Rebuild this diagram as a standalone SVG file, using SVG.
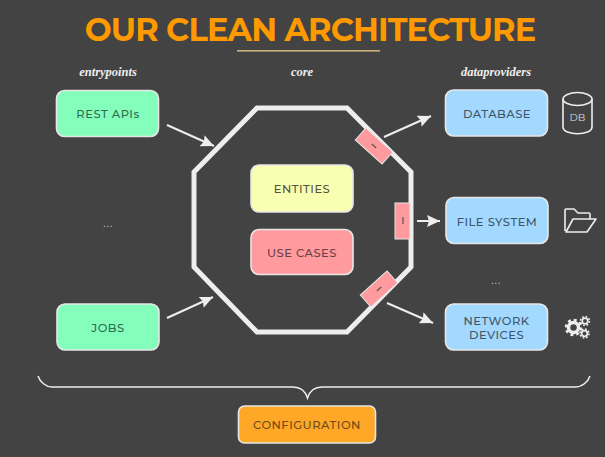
<svg xmlns="http://www.w3.org/2000/svg" width="605" height="457" viewBox="0 0 605 457">
<defs>
<marker id="ah" markerUnits="userSpaceOnUse" markerWidth="14" markerHeight="12" refX="13" refY="6" orient="auto"><path d="M0 0L13 6L0 12L2 6Z" fill="#eeeeee"/></marker>
</defs>
<style>
text{font-family:"Montserrat","Inter","Open Sans","Liberation Sans",sans-serif;text-anchor:middle}
.n{stroke:#e6e6e6;stroke-width:1.6}
.l{font-size:11.5px;font-weight:500;letter-spacing:.5px}
.g{fill:#2f6b4f}.b{fill:#3f5568}
.h{font-family:"Liberation Serif",serif;font-style:italic;font-weight:700;font-size:12.5px;fill:#eeeeee}
.c{fill:none;stroke:#eeeeee;stroke-width:2;marker-end:url(#ah)}
.i{fill:none;stroke:#eeeeee;stroke-width:1.6;stroke-linejoin:round}
.p{fill:#ff9a9e;stroke:#e6e6e6;stroke-width:1}
.d{font-family:"Liberation Sans",sans-serif;fill:#cccccc;font-size:10px;letter-spacing:.5px}
</style>
<rect width="605" height="457" fill="#434343"/>
<text id="title" x="310" y="40.500" style="font-size:32px;font-weight:700;fill:#ff9900;letter-spacing:-.85px">OUR CLEAN ARCHITECTURE</text>
<rect x="237" y="50" width="143" height="1.600" fill="#c9b27c" id="rule"/>
<text class="h" x="108" y="76">entrypoints</text>
<text class="h" x="302" y="76">core</text>
<text class="h" x="496" y="76">dataproviders</text>
<path id="octagon" d="M257 108H347L411 172V267L347 332H257L194 267V172Z" fill="none" stroke="#eeeeee" stroke-width="5"/>
<g id="connectors">
<path class="c" d="M167 125L214 146"/>
<path class="c" d="M167 318L213 297"/>
<path class="c" d="M384 137L431 116"/>
<path class="c" d="M417 221H440"/>
<path class="c" d="M387 303L433 323"/>
</g>
<g id="n-rest"><rect class="n" x="56.500" y="90.500" width="102" height="46" rx="8" fill="#84ffbb"/><text class="l g" x="108" y="118">REST APIs</text></g>
<g id="n-jobs"><rect class="n" x="57" y="304" width="102" height="46" rx="8" fill="#84ffbb"/><text class="l g" x="108" y="332">JOBS</text></g>
<g id="n-db"><rect class="n" x="445.500" y="90" width="102" height="46" rx="8" fill="#a3d9ff"/><text class="l b" x="497" y="118">DATABASE</text></g>
<g id="n-fs"><rect class="n" x="446" y="197.500" width="102" height="46" rx="8" fill="#a3d9ff"/><text class="l b" x="497" y="226">FILE SYSTEM</text></g>
<g id="n-net"><rect class="n" x="445.500" y="304" width="102" height="46" rx="8" fill="#a3d9ff"/><text class="l b" x="496.500" y="325">NETWORK</text><text class="l b" x="496.500" y="339">DEVICES</text></g>
<g id="n-entities"><rect class="n" x="251" y="165" width="102" height="47" rx="8" fill="#f8ffb0"/><text class="l" fill="#555540" x="302" y="193">ENTITIES</text></g>
<g id="n-usecases"><rect class="n" x="251" y="229.500" width="102" height="45" rx="8" fill="#ff9a9e"/><text class="l" fill="#6b4044" x="302" y="257">USE CASES</text></g>
<g id="n-config"><rect class="n" x="238.500" y="406" width="137" height="37" rx="6" fill="#ffa726"/><text class="l" fill="#6b4a18" x="307" y="429">CONFIGURATION</text></g>
<g id="port1"><rect class="p" x="-18" y="-8" width="36" height="16" transform="translate(374 146) rotate(42)"/><path d="M-3 0H3" stroke="#555" stroke-width="1.200" transform="translate(374 146) rotate(42)"/></g>
<g id="port2"><rect class="p" x="395" y="203" width="15" height="36"/><path d="M403 217V224" stroke="#555" stroke-width="1.200"/></g>
<g id="port3"><rect class="p" x="-18" y="-8" width="36" height="16" transform="translate(379 289) rotate(-42)"/><path d="M-3 0H3" stroke="#555" stroke-width="1.200" transform="translate(379 289) rotate(-42)"/></g>
<g id="ellipsis"><text class="d" x="108" y="227">...</text><text class="d" x="496" y="284">...</text></g>
<g id="icon-db"><path class="i" d="M563 99V127C563 136 592 136 592 127V99"/><ellipse class="i" cx="577.500" cy="99" rx="14.500" ry="6.500"/><text x="577.500" y="121" style="font-size:10px;fill:#dddddd">DB</text></g>
<g id="icon-folder"><path class="i" d="M565 231V210Q565 209 566 209H574L578 213H589Q590 213 590 214V219M566 232H587L596 219H573Z"/></g>
<g id="icon-gears" fill="none" stroke="#eeeeee"><circle cx="573.500" cy="327.500" r="5" stroke-width="3.500"/><circle cx="573.500" cy="327.500" r="7.500" stroke-width="2.500" stroke-dasharray="3 2.890"/><circle cx="585" cy="321" r="2.800" stroke-width="1.700"/><circle cx="585" cy="321" r="4.500" stroke-width="1.500" stroke-dasharray="1.800 1.730"/><circle cx="584.500" cy="333.500" r="2.800" stroke-width="1.700"/><circle cx="584.500" cy="333.500" r="4.500" stroke-width="1.500" stroke-dasharray="1.800 1.730"/></g>
<path id="brace" d="M38 376C40 382 46 387 52 387H293C300 387 305 390 307.500 398C310 390 315 387 322 387H575C582 387 588 382 590 376" fill="none" stroke="#eeeeee" stroke-width="1.500"/>
</svg>
